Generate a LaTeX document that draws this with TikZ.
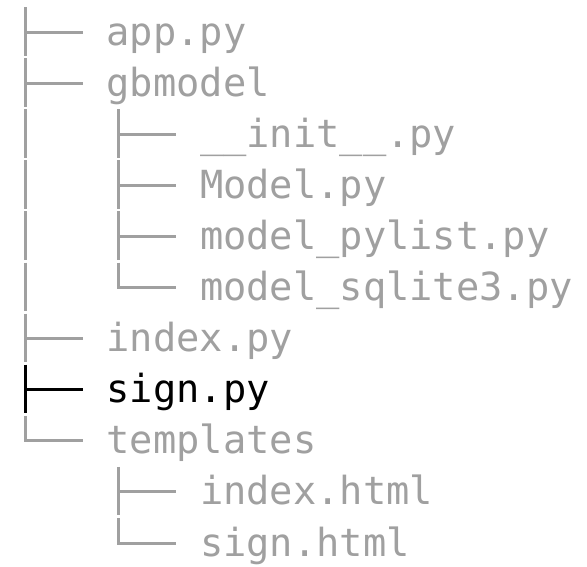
\documentclass[tikz,border=0pt]{standalone}
\usepackage{fontspec}
\newfontfamily\treefont{DejaVu Sans Mono}
\usetikzlibrary{calc}
\definecolor{filegray}{RGB}{160,160,160}
\tikzset{
  entry/.style={
    anchor=west,
    inner sep=0pt,
    text height=36pt,
    text depth=10pt,
    text=filegray,
    font=\treefont\fontsize{38.7pt}{51pt}\selectfont
  },
  branch/.style={draw=filegray, line width=3pt},
  hot/.style={text=black},
  hotline/.style={draw=black}
}
% tree glyphs drawn per row: tee, elbow and pipe
\newcommand{\tee}[3][]{%
  \draw[branch,#1] ([yshift=25pt]#2.west -| #3) -- ([yshift=-23.5pt]#2.west -| #3)
    (#2.west -| #3) -- ([xshift=-23.5pt]#2.west);}
\newcommand{\elbow}[2]{%
  \draw[branch] ([yshift=25pt]#1.west -| #2) |- ([xshift=-23.5pt]#1.west);}
\newcommand{\pipe}[2]{%
  \draw[branch] ([yshift=25pt]#1.west -| #2) -- ([yshift=-23.5pt]#1.west -| #2);}

\begin{document}
\begin{tikzpicture}[x=1pt, y=-1pt]
  \useasboundingbox[fill=white] (0,0) rectangle (587,566);
  \coordinate (col0) at (25,0);
  \coordinate (col1) at (118.2,0);

  \node[entry] (app)       at (106.5,32)    {app.py};
  \node[entry] (gbmodel)   at (106.5,83.1)  {gbmodel};
  \node[entry] (init)      at (199.8,134.2) {\_\_init\_\_.py};
  \node[entry] (model)     at (199.8,185.3) {Model.py};
  \node[entry] (pylist)    at (199.8,236.4) {model\_pylist.py};
  \node[entry] (sqlite)    at (199.8,287.5) {model\_sqlite3.py};
  \node[entry] (index)     at (106.5,338.6) {index.py};
  \node[entry, hot] (sign) at (106.5,389.7) {sign.py};
  \node[entry] (templates) at (106.5,440.8) {templates};
  \node[entry] (indexhtml) at (199.8,491.9) {index.html};
  \node[entry] (signhtml)  at (199.8,543)   {sign.html};

  % top level
  \tee{app}{col0}
  \tee{gbmodel}{col0}
  \pipe{init}{col0}
  \pipe{model}{col0}
  \pipe{pylist}{col0}
  \pipe{sqlite}{col0}
  \tee{index}{col0}
  \tee[hotline]{sign}{col0}
  \elbow{templates}{col0}

  % gbmodel
  \tee{init}{col1}
  \tee{model}{col1}
  \tee{pylist}{col1}
  \elbow{sqlite}{col1}

  % templates
  \tee{indexhtml}{col1}
  \elbow{signhtml}{col1}
\end{tikzpicture}
\end{document}
